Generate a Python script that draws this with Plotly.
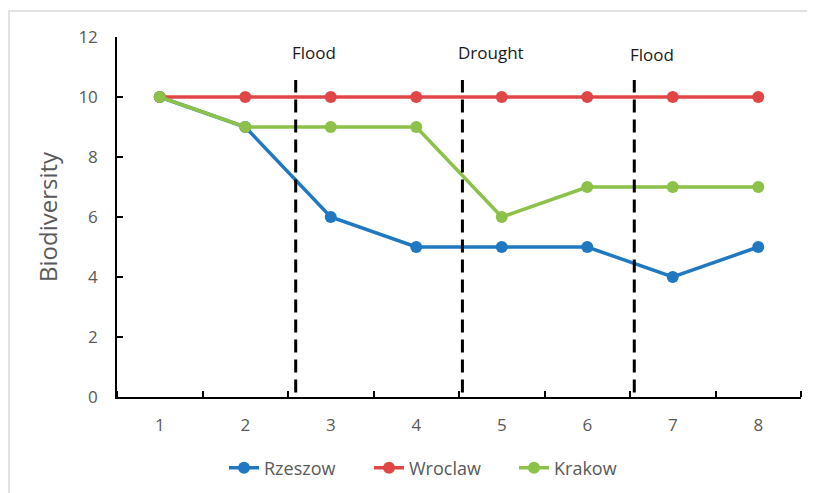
import plotly.graph_objects as go

x = [1, 2, 3, 4, 5, 6, 7, 8]
rzeszow = [10, 9, 6, 5, 5, 5, 4, 5]
wroclaw = [10, 10, 10, 10, 10, 10, 10, 10]
krakow = [10, 9, 9, 9, 6, 7, 7, 7]
event_x = [2.59, 4.54, 6.55]
event_labels = ["Flood", "Drought", "Flood"]
event_label_y = [11.5, 11.5, 11.43]
event_top = 10.57

FONT = "Liberation Sans Narrow, Open Sans, sans-serif"
W, H = 815, 493
OFF = 8  # page body margin
ML, MT = 117 - OFF, 37 - OFF
MR = W - (801 - OFF)
MB = H - (397 - OFF)
pw = W - ML - MR
ph = H - MT - MB

fig = go.Figure()
for name, ys, col in [("Rzeszow", rzeszow, "#1f78c1"),
                      ("Wroclaw", wroclaw, "#e04646"),
                      ("Krakow", krakow, "#8cc14a")]:
    fig.add_trace(go.Scatter(x=x, y=ys, name=name, mode="lines+markers",
                             line=dict(color=col, width=3.5),
                             marker=dict(color=col, size=12)))

for ex, lab, ly in zip(event_x, event_labels, event_label_y):
    fig.add_shape(type="line", x0=ex, x1=ex, y0=0.15, y1=event_top,
                  line=dict(color="black", width=3, dash="13px,7px"), layer="above")
    fig.add_annotation(x=ex, y=ly, text=lab, showarrow=False,
                       xanchor="left", yanchor="middle", xshift=-6,
                       font=dict(family=FONT, size=17, color="#1a1a1a"))

# outer border (window coords: left 8, top 11), runs off right/bottom edges
fig.add_shape(type="rect", xref="paper", yref="paper",
              x0=(8 - OFF - ML + 1) / pw, x1=(W + 20 - ML) / pw,
              y0=-((H + 20) - (MT + ph)) / ph, y1=1 + (MT - (11 - OFF)) / ph,
              line=dict(color="#d9d9d9", width=1.5), layer="below")

fig.update_layout(
    width=W, height=H,
    margin=dict(l=ML, r=MR, t=MT, b=MB, autoexpand=False),
    plot_bgcolor="white", paper_bgcolor="white",
    font=dict(family=FONT, size=17, color="#595959"),
    showlegend=True,
    legend=dict(orientation="h", x=(224 - 117) / pw, xanchor="left",
                y=-(468 - 397) / ph, yanchor="middle",
                font=dict(family=FONT, size=18, color="#595959"),
                entrywidth=100, entrywidthmode="pixels",
                tracegroupgap=0),
    xaxis=dict(range=[0.5, 8.5], tickmode="array", tickvals=x,
               ticktext=[str(v) for v in x], showgrid=False, zeroline=False,
               showline=True, linecolor="#000000", linewidth=1.5,
               ticks="", ticklabelstandoff=12, automargin=False),
    yaxis=dict(range=[0, 12], dtick=2, showgrid=False, zeroline=False,
               showline=True, linecolor="#000000", linewidth=1.5,
               ticks="inside", ticklen=6, tickcolor="#000000", tickwidth=1.5,
               ticklabelstandoff=14, automargin=False,
               title=dict(text="Biodiversity", font=dict(size=24, color="#595959"),
                          standoff=14)),
)

fig.update_xaxes(minor=dict(tickvals=[i + 0.5 for i in range(0, 9)],
                            ticks="inside", ticklen=6, tickcolor="#000000",
                            tickwidth=1.5))

fig.write_html("out.html")
